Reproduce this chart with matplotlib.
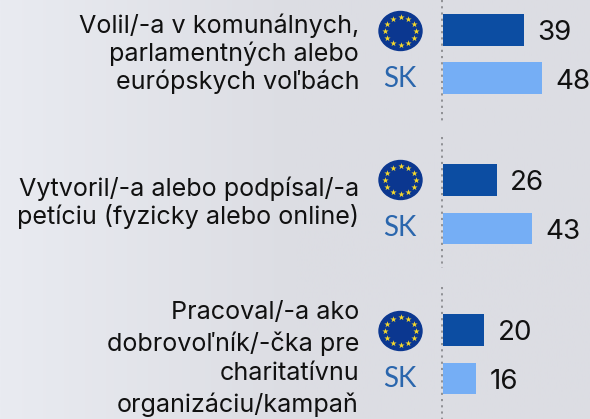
# coding: utf-8

import numpy as np
import matplotlib
matplotlib.use("Agg")
import matplotlib.pyplot as plt
from matplotlib.patches import Ellipse

categories = [
    "Volil/-a v komunálnych,\nparlamentných alebo\neurópskych voľbách",
    "Vytvoril/-a alebo podpísal/-a\npetíciu (fyzicky alebo online)",
    "Pracoval/-a ako\ndobrovoľník/-čka pre\ncharitatívnu\norganizáciu/kampaň",
]
eu_values = [39, 26, 20]
sk_values = [48, 43, 16]

EU_COLOR = "#0c4da2"
SK_COLOR = "#75aef5"
W, H = 590, 419

plt.rcParams["font.family"] = ["Inter", "DejaVu Sans"]

fig = plt.figure(figsize=(W / 100, H / 100), dpi=100)

# background plus everything that is not a bar, in pixel coords
bg = fig.add_axes([0, 0, 1, 1])
bg.set_xlim(0, W)
bg.set_ylim(H, 0)
bg.axis("off")
grad = np.linspace(0, 1, 256).reshape(1, -1)
bg.imshow(grad, extent=[0, W, H, 0], aspect="auto", vmin=0, vmax=1,
          cmap=matplotlib.colors.LinearSegmentedColormap.from_list(
              "bg", ["#e9ebf1", "#dcdde3", "#dcdde3"]))

for y0, y1 in [(0, 122), (137, 268), (287, 419)]:
    bg.plot([442, 442], [y0, y1], color="#8f9094", lw=1.4,
            linestyle=(0, (1.1, 2.1)))

centers = [54, 203, 354]
text_y = [54, 202.5, 359]
text_spacing = [1.17, 1.17, 1.36]
for i, cy in enumerate(centers):
    # flag
    fy = cy - 23
    bg.add_patch(Ellipse((400.5, fy), 43, 39, color="#0b3790", zorder=3))
    ang = np.arange(12) * np.pi / 6
    bg.scatter(400.5 + 15.5 * np.cos(ang), fy + 14 * np.sin(ang), marker="*",
               s=22, color="#f6d92c", linewidths=0, zorder=4)
    bg.text(400, cy + 25, "SK", color="#2a66ad", fontsize=20, ha="center",
            va="center", family=["Lato", "DejaVu Sans"])
    bg.text(359, text_y[i], categories[i], ha="right", va="center",
            fontsize=18.1, color="#111111", linespacing=text_spacing[i],
            multialignment="right")

# bars on their own value scale
ax = fig.add_axes([443 / W, 0, (W - 443) / W, 1])
ax.patch.set_alpha(0)
ax.axis("off")
ax.set_xlim(0, (W - 443) / 2.07)
ax.set_ylim(2.433, -0.36)
pos = np.arange(len(categories))
eu_bars = ax.barh(pos - 0.163, eu_values, height=0.213, color=EU_COLOR)
sk_bars = ax.barh(pos + 0.163, sk_values, height=0.213, color=SK_COLOR)
for bars in (eu_bars, sk_bars):
    labels = ax.bar_label(bars, padding=9.5, fontsize=20, color="#111111",
                          clip_on=False)
    for lab in labels:
        # numbers sit a bit lower than the bar centre
        lab.xyann = (lab.xyann[0], -2.2)

fig.savefig("out.png", dpi=100)
